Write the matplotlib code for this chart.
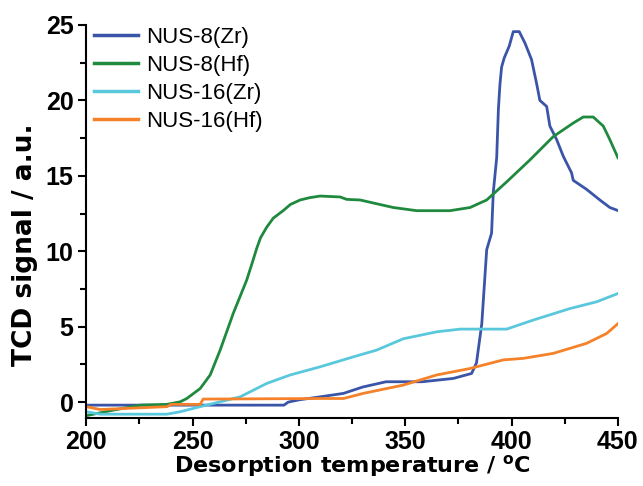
import matplotlib
matplotlib.use("Agg")
import matplotlib.pyplot as plt
from matplotlib.ticker import MultipleLocator

plt.rcParams['font.family'] = ['Liberation Sans', 'DejaVu Sans']
plt.rcParams['mathtext.fontset'] = 'custom'
plt.rcParams['mathtext.rm'] = 'DejaVu Sans:bold'
plt.rcParams['mathtext.bf'] = 'DejaVu Sans:bold'

# NUS-8(Zr)
zr8_x = [200, 293, 295, 300, 305, 310, 321, 330, 341, 358, 372.6, 381.2, 383.5, 386, 388.3, 390.6, 391.4, 393,
         393.8, 394.5, 395.3, 396.5, 398.9, 400.8, 403.6, 406.3, 409.4, 411.8, 413.3, 416.5, 418, 421.2,
         424.3, 428.2, 429, 435.3, 441.5, 446.2, 450]
zr8_y = [-0.2, -0.2, 0.0, 0.15, 0.25, 0.35, 0.58, 1.0, 1.35, 1.35, 1.57, 1.9, 2.6, 5.2, 10.1, 11.2, 13.9, 16.2,
         19.4, 21.0, 22.2, 22.8, 23.6, 24.56, 24.56, 23.8, 22.7, 21.1, 20.0, 19.6, 18.3, 17.4,
         16.3, 15.2, 14.7, 14.1, 13.4, 12.9, 12.7]

# NUS-8(Hf)
hf8_x = [200, 212.8, 225.4, 237.9, 244.2, 247.3, 253.6, 258.3, 263, 269.2, 275.5, 278, 280.2, 282, 284.9, 288,
         292.7, 296, 300.6, 305, 310, 319.4, 322.5, 328.8, 335, 344.4, 355.4, 371, 380.5, 388.3, 397.7, 408.6,
         419.6, 429, 433.7, 438.4, 443.1, 446.2, 450]
hf8_y = [-0.9, -0.53, -0.2, -0.15, 0.02, 0.24, 0.9, 1.8, 3.45, 5.9, 8.1, 9.2, 10.2, 10.9, 11.6, 12.2,
         12.7, 13.1, 13.4, 13.55, 13.66, 13.6, 13.44, 13.4, 13.2, 12.9, 12.69, 12.69, 12.9, 13.4, 14.6, 16.05,
         17.6, 18.5, 18.9, 18.9, 18.3, 17.4, 16.2]

# NUS-16(Zr)
zr16_x = [200, 206.6, 237.9, 244.2, 253.6, 263, 272.4, 284.9, 295.9, 310, 325.6, 336.6, 349.1, 364.8, 375.8,
          397.7, 410.2, 427.4, 440, 450]
zr16_y = [-0.64, -0.8, -0.8, -0.64, -0.3, 0.02, 0.35, 1.24, 1.8, 2.34, 3.0, 3.45, 4.2, 4.66, 4.84,
          4.84, 5.44, 6.2, 6.65, 7.2]

# NUS-16(Hf)
hf16_x = [200, 206.6, 238, 240, 253.6, 255, 310, 321, 330.3, 349.1, 364.8, 380.5, 396.1, 405.5, 419.6,
          435.3, 444.7, 450]
hf16_y = [-0.3, -0.49, -0.3, -0.15, -0.15, 0.2, 0.24, 0.24, 0.58, 1.13, 1.8, 2.23, 2.8, 2.9, 3.23,
          3.9, 4.55, 5.2]

labels = ["NUS-8(Zr)", "NUS-8(Hf)", "NUS-16(Zr)", "NUS-16(Hf)"]
colors = ["#3a55a8", "#1f8a3e", "#5ac8dc", "#f5822a"]

fig = plt.figure(figsize=(6.43, 4.86), dpi=100)
ax = fig.add_axes([0.134, 0.14, 0.827, 0.8086])

for xs, ys, lab, c in zip([zr8_x, hf8_x, zr16_x, hf16_x], [zr8_y, hf8_y, zr16_y, hf16_y], labels, colors):
    ax.plot(xs, ys, color=c, lw=2.0, label=lab)

ax.set_xlim(200, 450)
ax.set_ylim(-1.05, 25)
ax.xaxis.set_major_locator(MultipleLocator(50))
ax.xaxis.set_minor_locator(MultipleLocator(25))
ax.yaxis.set_major_locator(MultipleLocator(5))
ax.yaxis.set_minor_locator(MultipleLocator(2.5))
for s in ['top', 'right']:
    ax.spines[s].set_visible(False)
for s in ['left', 'bottom']:
    ax.spines[s].set_linewidth(1.5)
ax.tick_params(which='major', direction='out', length=6, width=1.5, labelsize=18, pad=3)
ax.tick_params(which='minor', direction='out', length=4, width=1.5)
for lbl in ax.get_xticklabels() + ax.get_yticklabels():
    lbl.set_fontweight('bold')

ax.set_xlabel("Desorption temperature / $^{\\mathregular{o}}$C", fontsize=16, fontweight='bold',
              family=['DejaVu Sans'], labelpad=-1)
ax.set_ylabel("TCD signal / a.u.", fontsize=19, fontweight='bold', family=['DejaVu Sans'])
ax.yaxis.set_label_coords(-0.09, 0.44)

leg = ax.legend(loc='upper left', bbox_to_anchor=(-0.015, 1.035), frameon=False, fontsize=16,
                handlelength=2.0, handletextpad=0.35, labelspacing=0.32, borderaxespad=0.3)
for h in leg.get_lines():
    h.set_linewidth(2.5)

fig.savefig("out.png", dpi=100)
